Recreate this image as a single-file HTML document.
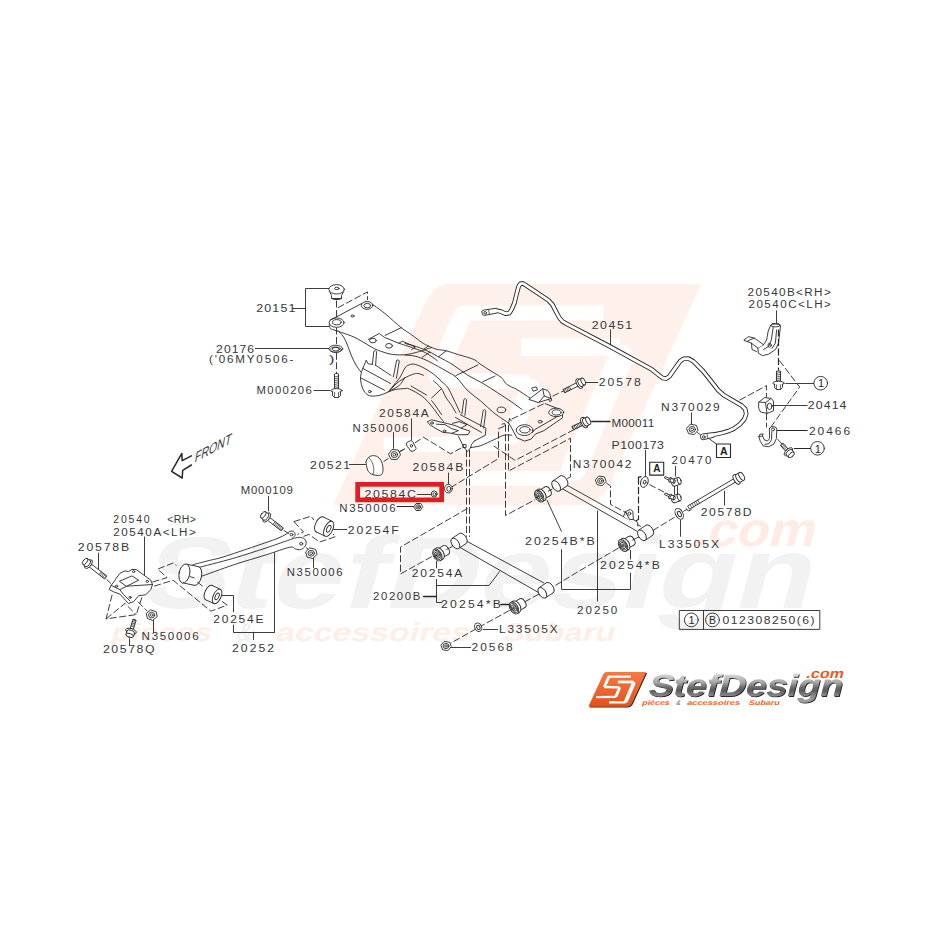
<!DOCTYPE html>
<html><head><meta charset="utf-8"><title>diagram</title>
<style>
html,body{margin:0;padding:0;background:#fff;}
svg{display:block;font-family:"Liberation Sans",sans-serif;}
</style></head><body>
<svg width="931" height="931" viewBox="0 0 931 931">
<rect width="931" height="931" fill="#fff"/>
<defs>
<g id="emb">
<path d="M300,60 L875,60 L668,510 Q645,560 590,560 L35,560 L243,108 Q265,60 300,60 Z"/>
</g>
<g id="embsj" fill="none" stroke="#fff" stroke-linejoin="round">
<path d="M652,126 L338,126 M270,277 L482,283 M150,424 L432,421 M335,500 L578,500" stroke-width="34"/>
<path d="M464,203 L690,203" stroke-width="40"/>
<path d="M331,131 L272,264 M485,296 L440,404" stroke-width="42" stroke-linecap="round"/>
<path d="M692,226 L584,478" stroke-width="56" stroke-linecap="round"/>
</g>
</defs>
<g id="watermark">
<g transform="matrix(0.4385 0 0 0.4426 317.65 257.14)">
<use href="#emb" fill="#fef0eb"/>
<use href="#embsj"/>
</g>
<text transform="matrix(0.762 0 -0.1924 0.74 162.24 534)" x="-6" y="100" font-size="138" font-weight="bold" fill="#f2f2f2" textLength="880" lengthAdjust="spacingAndGlyphs">StefDesign</text>
<text transform="matrix(0.385 0 -0.089 0.342 699.9 511.8)" x="0" y="100" font-size="140" font-weight="bold" fill="#fdebe4" textLength="318" lengthAdjust="spacingAndGlyphs">.com</text>
<g fill="#fdeee8" font-size="125" font-weight="bold">
<text transform="matrix(0.2154 0 -0.0533 0.205 115.0 621.3)" x="0" y="98" textLength="468" lengthAdjust="spacingAndGlyphs">pièces</text>
<text transform="matrix(0.2154 0 -0.0533 0.205 240.3 621.3)" x="0" y="98" fill="#f1f1f1" textLength="75" lengthAdjust="spacingAndGlyphs">&amp;</text>
<text transform="matrix(0.2154 0 -0.0533 0.205 279.6 621.3)" x="0" y="98" textLength="900" lengthAdjust="spacingAndGlyphs">accessoires</text>
<text transform="matrix(0.2154 0 -0.0533 0.205 506.1 621.3)" x="0" y="98" textLength="524" lengthAdjust="spacingAndGlyphs">Subaru</text>
</g>
</g>

<g stroke-linecap="round" stroke-linejoin="round">
<path d="M292.4,308.5 L305.3,308.5" fill="none" stroke="#282828" stroke-width="0.9"/>
<path d="M328.9,288.5 L305.5,288.5 L305.5,326.5 L328.9,326.5" fill="none" stroke="#282828" stroke-width="0.9"/>
<path d="M329.6,291.5 L331.5,295.5 L331.5,298.5 L341.5,298.5 L341.5,295.5 L343.8,291.5" fill="#fff" stroke="#282828" stroke-width="0.9"/>
<path d="M331.8,298.3 L334.0,299.5 L339.4,299.5 L341.6,298.3" fill="none" stroke="#282828" stroke-width="0.9"/>
<ellipse cx="336.6" cy="289.3" rx="7.7" ry="4.7" fill="#fff" stroke="#282828" stroke-width="0.9"/>
<ellipse cx="336.8" cy="288.4" rx="2.3" ry="1.2" fill="none" stroke="#282828" stroke-width="0.9"/>
<path d="M336.5,300.5 L336.5,318.0" fill="none" stroke="#282828" stroke-width="0.9" stroke-dasharray="7 2.5" stroke-linecap="butt"/>
<path d="M336.5,327.5 L336.5,344.5" fill="none" stroke="#282828" stroke-width="0.9" stroke-dasharray="7 2.5" stroke-linecap="butt"/>
<path d="M336.5,352.8 L336.5,373.5" fill="none" stroke="#282828" stroke-width="0.9" stroke-dasharray="7 2.5" stroke-linecap="butt"/>
<path d="M337.8,307.8 L367.5,291.9 L367.5,300.0" fill="none" stroke="#282828" stroke-width="0.9" stroke-dasharray="7 2.5" stroke-linecap="butt"/>
<path d="M255.4,348.5 L328.9,348.5" fill="none" stroke="#282828" stroke-width="0.9"/>
<ellipse cx="335.8" cy="348.8" rx="6.9" ry="3.6" fill="#fff" stroke="#282828" stroke-width="0.9"/>
<ellipse cx="335.8" cy="349.2" rx="3.6" ry="1.8" fill="none" stroke="#282828" stroke-width="0.9"/>
<ellipse cx="335.8" cy="349.6" rx="5.5" ry="2.7" fill="none" stroke="#282828" stroke-width="0.7"/>
<path d="M313.9,390.5 L330.0,390.5" fill="none" stroke="#282828" stroke-width="0.9"/>
<path d="M334.5,374.8 L334.5,389.5 L338.5,389.5 L338.5,374.8" fill="#fff" stroke="#282828" stroke-width="0.9"/>
<path d="M334.3,374.8 L335.2,373.5 L337.8,373.5 L338.7,374.8" fill="none" stroke="#282828" stroke-width="0.9"/>
<path d="M334.3,377.0 L338.7,376.0" fill="none" stroke="#282828" stroke-width="0.7"/>
<path d="M334.3,378.9 L338.7,377.9" fill="none" stroke="#282828" stroke-width="0.7"/>
<path d="M334.3,380.8 L338.7,379.8" fill="none" stroke="#282828" stroke-width="0.7"/>
<path d="M334.3,382.7 L338.7,381.7" fill="none" stroke="#282828" stroke-width="0.7"/>
<path d="M334.3,384.6 L338.7,383.6" fill="none" stroke="#282828" stroke-width="0.7"/>
<path d="M334.3,386.5 L338.7,385.5" fill="none" stroke="#282828" stroke-width="0.7"/>
<path d="M334.3,388.4 L338.7,387.4" fill="none" stroke="#282828" stroke-width="0.7"/>
<ellipse cx="336.5" cy="390.6" rx="5.6" ry="2.0" fill="#fff" stroke="#282828" stroke-width="0.9"/>
<path d="M332.5,391.5 L332.5,395.6 L334.6,397.5 L338.4,397.5 L340.5,395.6 L340.5,391.5" fill="#fff" stroke="#282828" stroke-width="0.9"/>
<path d="M334.5,392.4 L334.5,397.2" fill="none" stroke="#282828" stroke-width="0.7"/>
<path d="M338.5,392.4 L338.5,397.2" fill="none" stroke="#282828" stroke-width="0.7"/>
<ellipse cx="336.6" cy="322.6" rx="7.5" ry="4.7" fill="#fff" stroke="#282828" stroke-width="0.9"/>
<ellipse cx="336.8" cy="322.2" rx="4.3" ry="2.6" fill="none" stroke="#282828" stroke-width="0.9"/>
<ellipse cx="367.1" cy="305.4" rx="5.8" ry="3.9" fill="#fff" stroke="#282828" stroke-width="0.9"/>
<ellipse cx="367.3" cy="305.6" rx="3.4" ry="2.2" fill="none" stroke="#282828" stroke-width="0.9"/>
<ellipse cx="352.5" cy="316.0" rx="1.6" ry="1.0" fill="none" stroke="#282828" stroke-width="0.9"/>
<path d="M330.2,320.2 L361.5,303.6" fill="none" stroke="#282828" stroke-width="0.9"/>
<path d="M372.6,304.2 C372.9,304.4 372.0,303.9 374.2,305.6 C376.4,307.3 381.3,310.5 385.8,314.2 C390.3,317.9 396.9,324.3 401.2,327.7 C405.5,331.1 408.2,332.3 411.6,334.8 C415.1,337.3 419.4,340.8 421.9,342.5 C424.4,344.2 424.8,344.3 426.5,345.2 C428.2,346.1 430.3,347.0 432.2,347.7 C434.1,348.4 435.3,349.0 437.6,349.5 C439.9,350.0 442.8,349.9 446.2,350.8 C449.6,351.7 453.7,353.2 458.3,354.6 C462.9,356.0 469.9,357.8 473.7,359.4 C477.4,361.0 477.9,362.6 480.8,364.5 C483.7,366.4 487.8,369.0 491.0,371.0 C494.2,373.0 498.1,375.2 500.1,376.6 C502.1,378.0 502.3,378.5 503.2,379.6 C504.1,380.7 504.1,381.9 505.3,383.0 C506.5,384.1 508.6,385.4 510.5,386.5 C512.4,387.6 513.7,387.6 516.9,389.5 C520.1,391.4 527.6,396.5 529.8,397.9" fill="none" stroke="#282828" stroke-width="0.9"/>
<path d="M329.3,324.5 C329.5,325.2 329.4,327.5 330.5,328.5 C331.6,329.5 333.2,329.6 336.0,330.6 C338.8,331.6 343.9,333.2 347.2,334.4 C350.5,335.6 352.8,336.4 356.0,338.0 C359.2,339.6 363.3,342.3 366.5,344.1 C369.7,345.9 372.4,347.8 375.0,349.0 C377.6,350.2 379.6,350.8 381.9,351.6 C384.2,352.4 386.6,353.3 389.0,353.8 C391.4,354.3 393.8,354.6 396.1,354.8 C398.4,355.0 400.9,354.9 403.0,354.8 C405.1,354.7 406.3,354.6 409.0,354.1 C411.7,353.6 416.3,352.5 419.3,351.6 C422.3,350.8 425.0,349.7 427.0,349.0 C429.0,348.3 430.8,347.8 431.5,347.6" fill="none" stroke="#282828" stroke-width="0.9"/>
<path d="M368.4,339.4 L379.3,333.5 L384.5,337.4 L398.7,343.2 L402.5,341.2 L415.4,347.0 L411.6,349.6" fill="none" stroke="#282828" stroke-width="0.9"/>
<path d="M385.1,335.4 L401.2,327.7" fill="none" stroke="#282828" stroke-width="0.9"/>
<path d="M398.7,343.2 C401.3,344.1 409.6,346.7 414.1,348.3 C418.6,349.9 421.8,350.8 425.7,352.8 C429.6,354.9 435.4,359.3 437.3,360.6" fill="none" stroke="#282828" stroke-width="0.9"/>
<ellipse cx="372.9" cy="340.6" rx="3.4" ry="2.3" fill="none" stroke="#282828" stroke-width="0.9"/>
<ellipse cx="389.0" cy="345.8" rx="3.4" ry="2.3" fill="none" stroke="#282828" stroke-width="0.9"/>
<path d="M405.0,343.5 C406.9,344.0 412.1,345.1 416.2,346.5 C420.3,347.9 426.2,350.4 429.9,352.1 C433.6,353.8 434.6,354.7 438.5,356.8 C442.4,358.9 448.2,361.8 453.1,364.9 C458.0,368.0 462.8,372.2 467.9,375.3 C472.9,378.4 478.5,380.8 483.4,383.7 C488.3,386.6 493.0,389.8 497.5,392.7 C502.0,395.6 506.3,398.3 510.4,401.1 C514.5,403.9 520.1,408.1 522.0,409.5" fill="none" stroke="#282828" stroke-width="0.9"/>
<path d="M405.0,355.1 C406.2,355.2 409.7,355.2 412.0,355.6 C414.3,356.0 416.0,356.3 418.7,357.2 C421.4,358.1 424.7,359.4 428.0,361.0 C431.3,362.6 435.3,364.9 438.5,366.7 C441.7,368.4 444.0,369.7 447.0,371.5 C450.0,373.3 453.0,374.3 456.5,377.5 C460.0,380.7 463.8,386.9 467.9,390.8 C471.9,394.7 476.5,397.5 480.8,401.1 C485.1,404.8 489.4,409.3 493.7,412.7 C498.0,416.1 504.0,419.9 506.6,421.7 C509.2,423.5 508.7,423.3 509.1,423.6" fill="none" stroke="#282828" stroke-width="0.9"/>
<path d="M422.2,357.2 L429.9,352.1" fill="none" stroke="#282828" stroke-width="0.9"/>
<path d="M423.9,349.0 L428.6,346.0" fill="none" stroke="#282828" stroke-width="0.9"/>
<path d="M438.5,356.8 L446.2,350.8" fill="none" stroke="#282828" stroke-width="0.9"/>
<path d="M455.7,375.7 L478.0,364.9" fill="none" stroke="#282828" stroke-width="0.9"/>
<path d="M482.7,381.8 L495.0,376.0" fill="none" stroke="#282828" stroke-width="0.9"/>
<ellipse cx="501.4" cy="409.9" rx="4.3" ry="2.8" fill="none" stroke="#282828" stroke-width="0.9"/>
<path d="M338.0,330.8 C338.8,331.7 341.4,333.8 342.9,336.0 C344.4,338.2 345.6,340.7 347.0,344.0 C348.4,347.3 350.0,352.4 351.5,355.9 C353.0,359.4 354.5,362.4 356.0,365.0 C357.5,367.6 359.8,370.4 360.5,371.5" fill="none" stroke="#282828" stroke-width="0.9"/>
<path d="M366.2,360.5 C365.4,362.4 362.4,368.8 361.5,372.0 C360.6,375.2 360.4,377.3 360.6,380.0 C360.8,382.7 361.6,385.8 362.5,388.0 C363.4,390.2 364.6,392.2 366.0,393.5 C367.4,394.8 368.7,395.7 371.0,396.0 C373.3,396.3 377.1,395.9 380.0,395.2 C382.9,394.5 387.1,392.4 388.5,391.8" fill="none" stroke="#282828" stroke-width="0.9"/>
<path d="M366.2,360.5 L368.5,364.0 L374.2,364.4 L391.0,375.4" fill="none" stroke="#282828" stroke-width="0.9"/>
<path d="M363.0,368.5 L390.5,383.5" fill="none" stroke="#282828" stroke-width="0.9"/>
<path d="M361.0,378.0 L384.5,390.2" fill="none" stroke="#282828" stroke-width="0.9"/>
<ellipse cx="369.8" cy="391.6" rx="1.4" ry="1.1" fill="none" stroke="#282828" stroke-width="0.9"/>
<path d="M372.4,364.4 L373.8,351.5 L375.4,350.6 L376.6,351.8 L375.6,365.4" fill="#fff" stroke="#282828" stroke-width="0.9"/>
<path d="M393.4,376.8 L396.6,360.4 L398.2,359.8 L399.3,361.0 L396.4,378.2" fill="#fff" stroke="#282828" stroke-width="0.9"/>
<path d="M388.5,391.8 C389.2,390.8 391.2,388.3 393.0,386.0 C394.8,383.7 397.5,381.0 399.5,378.0 C401.5,375.0 403.6,370.1 405.0,368.0 C406.4,365.9 406.6,366.0 408.0,365.4 C409.4,364.8 411.2,363.8 413.6,364.1 C416.0,364.4 418.9,365.5 422.2,367.1 C425.5,368.8 430.1,371.6 433.4,374.0 C436.7,376.4 439.5,379.4 441.9,381.7 C444.3,384.0 446.0,385.0 447.9,387.7 C449.8,390.4 451.7,395.1 453.1,398.0 C454.5,400.9 455.4,402.6 456.5,405.0 C457.6,407.4 459.4,411.2 460.0,412.5" fill="none" stroke="#282828" stroke-width="0.9"/>
<path d="M388.5,391.8 C389.8,390.5 393.5,386.2 396.0,384.0 C398.5,381.8 400.7,380.2 403.5,378.6 C406.3,377.0 410.3,375.2 412.7,374.4 C415.1,373.5 416.1,373.4 417.9,373.5 C419.7,373.6 422.6,375.0 423.5,375.3" fill="none" stroke="#282828" stroke-width="0.9"/>
<path d="M390.0,390.6 C391.5,389.8 396.5,387.8 399.0,385.6 C401.5,383.4 404.0,378.8 405.0,377.4" fill="none" stroke="#282828" stroke-width="0.9"/>
<path d="M433.4,380.8 C434.7,382.0 439.0,385.2 441.1,388.1 C443.2,391.0 444.5,395.2 446.2,398.0 C447.9,400.8 449.8,402.5 451.4,405.0 C453.0,407.5 455.2,411.7 456.0,413.0" fill="none" stroke="#282828" stroke-width="0.9"/>
<path d="M431.6,398.0 L441.1,389.0" fill="none" stroke="#282828" stroke-width="0.9"/>
<path d="M411.0,386.0 L426.5,395.0" fill="none" stroke="#282828" stroke-width="0.9"/>
<path d="M388.5,391.8 C389.8,391.4 393.2,389.9 396.0,389.4 C398.8,388.9 402.8,388.7 405.0,388.6 C407.2,388.5 406.4,387.7 409.3,389.0 C412.2,390.3 418.6,393.6 422.2,396.3 C425.8,399.0 428.2,402.1 430.8,405.0 C433.4,407.9 435.4,411.2 437.5,414.0 C439.6,416.8 442.5,420.2 443.5,421.5" fill="none" stroke="#282828" stroke-width="0.9"/>
<path d="M431.6,400.6 L435.0,405.0 L441.5,414.5" fill="none" stroke="#282828" stroke-width="0.9"/>
<path d="M461.9,414.0 L463.9,399.5 L465.4,398.6 L466.6,399.8 L464.9,415.4" fill="#fff" stroke="#282828" stroke-width="0.9"/>
<path d="M480.6,426.6 L483.2,410.4 L484.7,409.6 L485.9,410.8 L483.6,428.0" fill="#fff" stroke="#282828" stroke-width="0.9"/>
<path d="M460.2,414.6 L485.9,428.2 L485.3,435.3 L474.3,441.0" fill="none" stroke="#282828" stroke-width="0.9"/>
<path d="M455.5,417.5 L481.5,432.4" fill="none" stroke="#282828" stroke-width="0.9"/>
<path d="M427.6,421.6 L431.5,419.8 L438.0,421.4 L447.5,423.6 L455.0,425.5 L461.0,428.2 L470.0,431.2 L468.0,434.6 L458.0,434.8 L450.0,433.0 L443.0,432.4 L436.0,428.6 L430.5,425.2 Z" fill="#fff" stroke="#282828" stroke-width="0.9"/>
<path d="M436.5,424.2 L445.0,424.6 L451.5,428.6 L458.5,430.6 L452.0,433.2" fill="none" stroke="#282828" stroke-width="0.9"/>
<path d="M452.5,423.4 L459.0,421.6 L467.0,424.6 L461.0,428.2" fill="none" stroke="#282828" stroke-width="0.9"/>
<ellipse cx="432.0" cy="423.0" rx="1.5" ry="1.1" fill="none" stroke="#282828" stroke-width="0.9"/>
<ellipse cx="444.5" cy="431.0" rx="1.4" ry="1.0" fill="none" stroke="#282828" stroke-width="0.9"/>
<path d="M458.5,436.5 L463.8,447.2 L467.5,451.5 L470.6,447.6" fill="none" stroke="#282828" stroke-width="0.9"/>
<path d="M470.6,447.6 C472.3,447.3 477.0,446.9 480.8,445.6 C484.6,444.3 489.8,441.5 493.7,439.8 C497.6,438.1 501.0,436.0 504.0,435.2 C507.0,434.4 510.4,435.2 511.7,435.2" fill="none" stroke="#282828" stroke-width="0.9"/>
<path d="M474.3,441.0 L471.5,444.5 L470.6,447.6" fill="none" stroke="#282828" stroke-width="0.9"/>
<rect x="463.3" y="444.6" width="2.8" height="3" fill="none" stroke="#282828" stroke-width="0.9"/>
<path d="M545.2,403.7 L556.8,408.2 L560.6,409.8 L562.5,412.7 L562.5,417.8 L543.9,430.7 L535.5,434.0 L531.1,439.1 L524.6,441.1 L516.9,437.8 L511.7,428.2 L509.1,423.6" fill="none" stroke="#282828" stroke-width="0.9"/>
<path d="M562.4,413.6 L534.9,429.5 L532.4,432.6" fill="none" stroke="#282828" stroke-width="0.9"/>
<path d="M511.7,419.1 L543.9,403.7" fill="none" stroke="#282828" stroke-width="0.9" stroke-dasharray="7 2.5" stroke-linecap="butt"/>
<ellipse cx="524.6" cy="430.1" rx="8.4" ry="5.4" fill="#fff" stroke="#282828" stroke-width="0.9"/>
<ellipse cx="524.9" cy="429.8" rx="5.2" ry="3.2" fill="none" stroke="#282828" stroke-width="0.9"/>
<ellipse cx="556.2" cy="412.4" rx="7.5" ry="4.2" fill="#fff" stroke="#282828" stroke-width="0.9"/>
<ellipse cx="556.6" cy="412.4" rx="4.5" ry="2.6" fill="none" stroke="#282828" stroke-width="0.9"/>
<ellipse cx="540.1" cy="421.7" rx="2.0" ry="1.3" fill="none" stroke="#282828" stroke-width="0.9"/>
<path d="M508.5,423.0 L509.6,418.4 L511.2,421.0" fill="none" stroke="#282828" stroke-width="0.9"/>
<path d="M502.0,424.2 L504.6,423.4 L505.3,425.6" fill="none" stroke="#282828" stroke-width="0.9"/>
<path d="M529.1,399.2 L542.7,388.8 L547.5,390.4 L549.7,393.4 L551.0,398.5 L538.8,402.4 Z" fill="#fff" stroke="#282828" stroke-width="0.9"/>
<path d="M542.7,388.8 L544.2,396.0 L551.0,398.5" fill="none" stroke="#282828" stroke-width="0.9"/>
<path d="M544.2,396.0 L538.8,402.4" fill="none" stroke="#282828" stroke-width="0.9"/>
<path d="M531.7,388.2 L533.2,391.2 L537.5,389.8 L536.4,386.9 L532.6,387.6" fill="none" stroke="#282828" stroke-width="0.9"/>
<path d="M548.5,399.4 L549.8,401.6 L551.8,400.4 L551.0,398.5" fill="none" stroke="#282828" stroke-width="0.9"/>
<path d="M466.5,450.0 L466.5,536.8" fill="none" stroke="#282828" stroke-width="0.9" stroke-dasharray="7 2.5" stroke-linecap="butt"/>
<path d="M469.5,450.0 L469.5,536.8" fill="none" stroke="#282828" stroke-width="0.9" stroke-dasharray="7 2.5" stroke-linecap="butt"/>
<path d="M505.5,424.7 L505.5,515.5 L535.2,499.6" fill="none" stroke="#282828" stroke-width="0.9" stroke-dasharray="7 2.5" stroke-linecap="butt"/>
<path d="M508.5,424.7 L508.5,471.1 L570.5,438.2 L570.5,476.9 L565.8,479.4" fill="none" stroke="#282828" stroke-width="0.9" stroke-dasharray="7 2.5" stroke-linecap="butt"/>
<path d="M504.5,426.2 L498.5,428.6 L498.5,458.5 L452.0,486.8" fill="none" stroke="#282828" stroke-width="0.9" stroke-dasharray="7 2.5" stroke-linecap="butt"/>
<path d="M493.8,446.0 L515.1,460.4 L579.8,426.6" fill="none" stroke="#282828" stroke-width="0.9" stroke-dasharray="7 2.5" stroke-linecap="butt"/>
<path d="M467.6,508.4 L400.5,547.1 L400.5,573.9 L432.0,556.5" fill="none" stroke="#282828" stroke-width="0.9" stroke-dasharray="7 2.5" stroke-linecap="butt"/>
<path d="M414.8,443.0 L423.4,437.2 L450.5,453.8 L462.8,447.2" fill="none" stroke="#282828" stroke-width="0.9" stroke-dasharray="7 2.5" stroke-linecap="butt"/>
<path d="M399.0,452.0 L406.5,447.8" fill="none" stroke="#282828" stroke-width="0.9" stroke-dasharray="7 2.5" stroke-linecap="butt"/>
<path d="M552.5,396.2 L563.8,390.8" fill="none" stroke="#282828" stroke-width="0.9" stroke-dasharray="7 2.5" stroke-linecap="butt"/>
<path d="M496.0,310.6 L501.0,311.6 L505.5,313.6 L509.2,313.2 L511.6,309.5 L514.4,303.0 L516.6,294.0 L518.7,286.2 L520.5,283.6 L523.4,283.6 L537.0,292.6 L548.5,300.4 L552.4,304.6 L556.0,311.6 L559.5,318.0 L562.5,321.4 L566.5,323.7 L608.9,345.9 L651.9,369.6 L658.4,374.8 L662.6,378.0 L666.0,378.6 L669.4,376.4 L675.0,368.4 L680.2,361.2 L683.5,358.8 L688.5,358.6 L693.6,361.6 L703.0,371.0 L711.0,381.0 L718.0,390.0 L723.5,395.0 L741.6,405.6 L745.2,409.0 L746.2,414.0 L744.2,419.4 L739.5,424.7 L733.5,428.8 L728.7,431.0 L722.5,432.8 L713.0,434.8" fill="none" stroke="#282828" stroke-width="4.6" stroke-linejoin="round"/>
<path d="M496.0,310.6 L501.0,311.6 L505.5,313.6 L509.2,313.2 L511.6,309.5 L514.4,303.0 L516.6,294.0 L518.7,286.2 L520.5,283.6 L523.4,283.6 L537.0,292.6 L548.5,300.4 L552.4,304.6 L556.0,311.6 L559.5,318.0 L562.5,321.4 L566.5,323.7 L608.9,345.9 L651.9,369.6 L658.4,374.8 L662.6,378.0 L666.0,378.6 L669.4,376.4 L675.0,368.4 L680.2,361.2 L683.5,358.8 L688.5,358.6 L693.6,361.6 L703.0,371.0 L711.0,381.0 L718.0,390.0 L723.5,395.0 L741.6,405.6 L745.2,409.0 L746.2,414.0 L744.2,419.4 L739.5,424.7 L733.5,428.8 L728.7,431.0 L722.5,432.8 L713.0,434.8" fill="none" stroke="#fff" stroke-width="2.8" stroke-linejoin="round" stroke-linecap="butt"/>
<path d="M496.5,308.2 L484.0,310.0 L481.8,311.2 L482.4,314.6 L484.5,315.4 L497.0,313.0" fill="#fff" stroke="#282828" stroke-width="0.9"/>
<ellipse cx="485.2" cy="312.8" rx="1.3" ry="1.3" fill="none" stroke="#282828" stroke-width="0.9"/>
<path d="M488.6,309.6 L489.4,314.4" fill="none" stroke="#282828" stroke-width="0.7"/>
<path d="M713.4,432.5 L702.4,434.0 L700.4,435.4 L701.0,439.0 L703.0,439.8 L713.8,437.2" fill="#fff" stroke="#282828" stroke-width="0.9"/>
<ellipse cx="703.8" cy="437.0" rx="1.3" ry="1.3" fill="none" stroke="#282828" stroke-width="0.9"/>
<path d="M707.0,433.6 L707.8,438.4" fill="none" stroke="#282828" stroke-width="0.7"/>
<path d="M610.5,329.8 L610.5,344.9" fill="none" stroke="#282828" stroke-width="0.9"/>
<path d="M585.3,382.5 L597.7,382.5" fill="none" stroke="#282828" stroke-width="0.9"/>
<path d="M579.8,381.2 L563.0,389.6 L564.6,392.8 L581.4,384.4 Z" fill="#fff" stroke="#282828" stroke-width="0.9"/>
<path d="M563.7,389.2 L565.3,392.5" fill="none" stroke="#282828" stroke-width="0.7"/>
<path d="M565.1,388.5 L566.8,391.7" fill="none" stroke="#282828" stroke-width="0.7"/>
<path d="M566.6,387.8 L568.2,391.0" fill="none" stroke="#282828" stroke-width="0.7"/>
<path d="M568.0,387.1 L569.6,390.3" fill="none" stroke="#282828" stroke-width="0.7"/>
<path d="M569.4,386.4 L571.0,389.6" fill="none" stroke="#282828" stroke-width="0.7"/>
<ellipse cx="579.3" cy="383.5" rx="2.6" ry="5.2" fill="#fff" stroke="#282828" stroke-width="0.9" transform="rotate(153.43494882292217 579.3 383.5)"/>
<ellipse cx="580.2" cy="383.0" rx="1.9" ry="3.7" fill="#fff" stroke="#282828" stroke-width="0.9" transform="rotate(333.43494882292214 580.2 383.0)"/>
<path d="M581.8,386.4 L584.9,384.9 L581.5,378.2 L578.5,379.7 Z" fill="#fff" stroke="none"/>
<path d="M581.8,386.4 L584.9,384.9" fill="none" stroke="#282828" stroke-width="0.9"/>
<path d="M578.5,379.7 L581.5,378.2" fill="none" stroke="#282828" stroke-width="0.9"/>
<ellipse cx="583.2" cy="381.5" rx="1.9" ry="3.7" fill="#fff" stroke="#282828" stroke-width="0.9" transform="rotate(333.43494882292214 583.2 381.5)"/>
<path d="M591.7,421.5 L610.0,421.5" fill="none" stroke="#282828" stroke-width="1.3"/>
<path d="M584.8,420.4 L571.8,426.6 L573.4,429.8 L586.4,423.6 Z" fill="#fff" stroke="#282828" stroke-width="0.9"/>
<path d="M572.5,426.2 L574.1,429.5" fill="none" stroke="#282828" stroke-width="0.7"/>
<path d="M574.0,425.5 L575.5,428.8" fill="none" stroke="#282828" stroke-width="0.7"/>
<path d="M575.4,424.9 L577.0,428.1" fill="none" stroke="#282828" stroke-width="0.7"/>
<path d="M576.9,424.2 L578.4,427.4" fill="none" stroke="#282828" stroke-width="0.7"/>
<path d="M578.3,423.5 L579.9,426.7" fill="none" stroke="#282828" stroke-width="0.7"/>
<path d="M579.8,422.8 L581.3,426.0" fill="none" stroke="#282828" stroke-width="0.7"/>
<ellipse cx="584.2" cy="422.6" rx="2.8" ry="5.6" fill="#fff" stroke="#282828" stroke-width="0.9" transform="rotate(154.50244850666226 584.2 422.6)"/>
<ellipse cx="585.1" cy="422.2" rx="2.0" ry="4.0" fill="#fff" stroke="#282828" stroke-width="0.9" transform="rotate(334.5024485066623 585.1 422.2)"/>
<path d="M586.9,425.9 L590.0,424.4 L586.5,417.1 L583.4,418.6 Z" fill="#fff" stroke="none"/>
<path d="M586.9,425.9 L590.0,424.4" fill="none" stroke="#282828" stroke-width="0.9"/>
<path d="M583.4,418.6 L586.5,417.1" fill="none" stroke="#282828" stroke-width="0.9"/>
<ellipse cx="588.2" cy="420.8" rx="2.0" ry="4.0" fill="#fff" stroke="#282828" stroke-width="0.9" transform="rotate(334.5024485066623 588.2 420.8)"/>
<path d="M776.5,310.8 L776.5,323.7" fill="none" stroke="#282828" stroke-width="0.9"/>
<path d="M770.6,325.4 L772.2,323.6 L779.0,323.8 L780.4,325.6 L780.2,329.0 L778.4,343.5 L775.5,349.5 L768.5,354.2 L762.5,355.6 L758.4,353.2 L757.8,348.0 L763.5,344.8 L766.6,340.0 L768.2,331.0 L770.6,325.4" fill="#fff" stroke="#282828" stroke-width="0.9"/>
<ellipse cx="775.5" cy="325.4" rx="4.6" ry="1.5" fill="none" stroke="#282828" stroke-width="0.9"/>
<path d="M773.2,327.6 L771.2,340.5 L768.6,346.4 L763.5,349.6" fill="none" stroke="#282828" stroke-width="0.9"/>
<path d="M776.6,330.0 L775.4,343.0 L772.0,348.4" fill="none" stroke="#282828" stroke-width="0.9"/>
<ellipse cx="769.6" cy="345.2" rx="1.6" ry="2.0" fill="none" stroke="#282828" stroke-width="0.9"/>
<path d="M757.8,348.0 L751.5,343.2 L747.0,341.5 L743.8,340.2 L748.5,336.6 L754.5,338.2 L759.0,341.4 L763.5,344.8" fill="#fff" stroke="#282828" stroke-width="0.9"/>
<path d="M747.0,341.5 L751.0,339.4 L754.5,338.2" fill="none" stroke="#282828" stroke-width="0.9"/>
<path d="M751.5,343.2 L752.0,349.5 L756.5,351.6" fill="none" stroke="#282828" stroke-width="0.9"/>
<path d="M778.5,329.5 L778.5,370.5" fill="none" stroke="#282828" stroke-width="1.2" stroke-dasharray="7 2.5" stroke-linecap="butt"/>
<path d="M776.5,371.5 L776.5,381.5 L780.5,381.5 L780.5,371.5 Z" fill="#fff" stroke="#282828" stroke-width="0.9"/>
<path d="M776.3,373.4 L780.3,372.6" fill="none" stroke="#282828" stroke-width="0.7"/>
<path d="M776.3,375.2 L780.3,374.4" fill="none" stroke="#282828" stroke-width="0.7"/>
<path d="M776.3,377.0 L780.3,376.2" fill="none" stroke="#282828" stroke-width="0.7"/>
<path d="M776.3,378.8 L780.3,378.0" fill="none" stroke="#282828" stroke-width="0.7"/>
<path d="M776.3,380.6 L780.3,379.8" fill="none" stroke="#282828" stroke-width="0.7"/>
<ellipse cx="778.5" cy="383.2" rx="5.6" ry="2.0" fill="#fff" stroke="#282828" stroke-width="0.9"/>
<path d="M774.5,384.2 L774.5,387.6 L776.6,389.5 L780.6,389.5 L782.5,387.6 L782.5,384.2" fill="#fff" stroke="#282828" stroke-width="0.9"/>
<path d="M776.5,385.0 L776.5,389.3" fill="none" stroke="#282828" stroke-width="0.7"/>
<path d="M780.5,385.0 L780.5,389.3" fill="none" stroke="#282828" stroke-width="0.7"/>
<path d="M785.7,383.5 L813.6,383.5" fill="none" stroke="#282828" stroke-width="0.9"/>
<circle cx="820.7" cy="383.2" r="6.8" fill="none" stroke="#282828" stroke-width="0.9"/>
<text x="821.0" y="387.4" font-size="11" text-anchor="middle" fill="#282828" stroke="none">1</text>
<path d="M779.4,360.5 L799.6,387.1 L769.8,428.6" fill="none" stroke="#282828" stroke-width="0.9" stroke-dasharray="7 2.5" stroke-linecap="butt"/>
<path d="M739.5,400.2 L766.5,385.6 L766.5,398.5" fill="none" stroke="#282828" stroke-width="0.9" stroke-dasharray="7 2.5" stroke-linecap="butt"/>
<path d="M766.5,413.2 L766.5,427.5" fill="none" stroke="#282828" stroke-width="0.9" stroke-dasharray="7 2.5" stroke-linecap="butt"/>
<path d="M759.0,402.0 L764.5,397.6 L771.0,398.4 L773.5,401.2 L773.5,410.8 L767.0,413.4 L760.5,412.0 L758.8,408.6 Z" fill="#fff" stroke="#282828" stroke-width="0.9"/>
<path d="M759.0,402.0 L765.5,402.6 L767.0,413.4" fill="none" stroke="#282828" stroke-width="0.9"/>
<path d="M765.5,402.6 L771.0,398.4" fill="none" stroke="#282828" stroke-width="0.9"/>
<ellipse cx="769.6" cy="406.4" rx="2.3" ry="3.2" fill="none" stroke="#282828" stroke-width="0.9"/>
<path d="M772.5,405.5 L807.2,405.5" fill="none" stroke="#282828" stroke-width="0.9"/>
<path d="M776.0,430.5 L807.2,430.5" fill="none" stroke="#282828" stroke-width="1.2"/>
<path d="M769.4,428.4 L771.5,426.6 L775.6,427.0 L776.8,429.2 L776.4,438.5 L773.8,444.2 L768.4,446.8 L763.4,446.0 L760.4,441.6 L758.8,436.5 L762.5,436.0 L764.5,440.0 L767.6,441.0 L769.6,438.4 L769.4,428.4" fill="#fff" stroke="#282828" stroke-width="0.9"/>
<ellipse cx="773.0" cy="429.4" rx="1.5" ry="1.5" fill="none" stroke="#282828" stroke-width="0.9"/>
<path d="M771.8,431.6 L771.6,439.5 L769.0,443.6 L765.0,444.4" fill="none" stroke="#282828" stroke-width="0.9"/>
<path d="M758.8,436.5 L759.8,434.4 L763.2,433.8 L762.5,436.0" fill="none" stroke="#282828" stroke-width="0.9"/>
<path d="M777.5,439.2 L784.0,446.0" fill="none" stroke="#282828" stroke-width="0.9" stroke-dasharray="7 2.5" stroke-linecap="butt"/>
<path d="M790.6,451.7 L782.8,443.1 L780.4,445.3 L788.2,453.9 Z" fill="#fff" stroke="#282828" stroke-width="0.9"/>
<path d="M783.3,443.7 L781.0,445.9" fill="none" stroke="#282828" stroke-width="0.7"/>
<path d="M784.4,444.9 L782.0,447.1" fill="none" stroke="#282828" stroke-width="0.7"/>
<path d="M785.5,446.1 L783.1,448.2" fill="none" stroke="#282828" stroke-width="0.7"/>
<path d="M786.5,447.3 L784.2,449.4" fill="none" stroke="#282828" stroke-width="0.7"/>
<path d="M787.6,448.5 L785.3,450.6" fill="none" stroke="#282828" stroke-width="0.7"/>
<ellipse cx="788.4" cy="451.7" rx="2.6" ry="5.2" fill="#fff" stroke="#282828" stroke-width="0.9" transform="rotate(-132.20729763428648 788.4 451.7)"/>
<ellipse cx="789.1" cy="452.4" rx="1.9" ry="3.7" fill="#fff" stroke="#282828" stroke-width="0.9" transform="rotate(47.792702365713524 789.1 452.4)"/>
<path d="M786.3,454.9 L788.6,457.5 L794.1,452.4 L791.8,449.9 Z" fill="#fff" stroke="none"/>
<path d="M786.3,454.9 L788.6,457.5" fill="none" stroke="#282828" stroke-width="0.9"/>
<path d="M791.8,449.9 L794.1,452.4" fill="none" stroke="#282828" stroke-width="0.9"/>
<ellipse cx="791.3" cy="454.9" rx="1.9" ry="3.7" fill="#fff" stroke="#282828" stroke-width="0.9" transform="rotate(47.792702365713524 791.3 454.9)"/>
<path d="M794.3,448.5 L810.4,448.5" fill="none" stroke="#282828" stroke-width="1.2"/>
<circle cx="817.5" cy="448.3" r="6.8" fill="none" stroke="#282828" stroke-width="0.9"/>
<text x="817.8" y="452.5" font-size="11" text-anchor="middle" fill="#282828" stroke="none">1</text>
<path d="M691.5,412.9 L691.5,423.6" fill="none" stroke="#282828" stroke-width="0.9"/>
<path d="M697.9,430.4 L694.2,434.6 L688.5,433.6 L686.5,428.4 L690.2,424.2 L695.9,425.2 Z" fill="#fff" stroke="#282828" stroke-width="0.9"/>
<ellipse cx="692.2" cy="429.4" rx="3.2" ry="2.9" fill="none" stroke="#282828" stroke-width="0.9"/>
<ellipse cx="692.2" cy="429.4" rx="1.4" ry="1.3" fill="none" stroke="#282828" stroke-width="0.8"/>
<path d="M697.4,432.6 L700.4,434.6" fill="none" stroke="#282828" stroke-width="0.9"/>
<path d="M709.4,438.8 L716.3,444.0" fill="none" stroke="#282828" stroke-width="0.9"/>
<rect x="716.5" y="444.0" width="14.0" height="13.5" fill="#fff" stroke="#282828" stroke-width="1.1"/>
<text x="723.7" y="454.6" font-size="10.5" font-weight="bold" text-anchor="middle" fill="#1c1c1c" stroke="none">A</text>
<path d="M191.4,455.8 L182.2,460.6 L181.8,453.4 L171.6,471.3 L182.2,478.0 L182.7,470.3 L191.4,465.0" fill="none" stroke="#282828" stroke-width="1.5"/>
<path d="M144.5,537.0 L144.5,576.7" fill="none" stroke="#282828" stroke-width="0.9"/>
<path d="M98.5,553.1 L98.5,570.3" fill="none" stroke="#282828" stroke-width="0.9"/>
<path d="M86.3,564.6 L104.7,579.0 L106.9,576.2 L88.5,561.8 Z" fill="#fff" stroke="#282828" stroke-width="0.9"/>
<path d="M104.1,578.5 L106.3,575.7" fill="none" stroke="#282828" stroke-width="0.7"/>
<path d="M102.8,577.5 L105.0,574.7" fill="none" stroke="#282828" stroke-width="0.7"/>
<path d="M101.5,576.6 L103.8,573.7" fill="none" stroke="#282828" stroke-width="0.7"/>
<path d="M100.3,575.6 L102.5,572.7" fill="none" stroke="#282828" stroke-width="0.7"/>
<path d="M99.0,574.6 L101.2,571.7" fill="none" stroke="#282828" stroke-width="0.7"/>
<ellipse cx="88.6" cy="564.1" rx="2.6" ry="5.2" fill="#fff" stroke="#282828" stroke-width="0.9" transform="rotate(38.04704253182605 88.6 564.1)"/>
<ellipse cx="87.8" cy="563.5" rx="1.9" ry="3.7" fill="#fff" stroke="#282828" stroke-width="0.9" transform="rotate(218.04704253182604 87.8 563.5)"/>
<path d="M90.1,560.6 L87.4,558.5 L82.8,564.4 L85.5,566.5 Z" fill="#fff" stroke="none"/>
<path d="M90.1,560.6 L87.4,558.5" fill="none" stroke="#282828" stroke-width="0.9"/>
<path d="M85.5,566.5 L82.8,564.4" fill="none" stroke="#282828" stroke-width="0.9"/>
<ellipse cx="85.1" cy="561.4" rx="1.9" ry="3.7" fill="#fff" stroke="#282828" stroke-width="0.9" transform="rotate(218.04704253182604 85.1 561.4)"/>
<path d="M106.5,579.4 L111.0,583.6" fill="none" stroke="#282828" stroke-width="0.9" stroke-dasharray="7 2.5" stroke-linecap="butt"/>
<path d="M111.2,585.4 L119.8,573.4 L125.0,570.8 L128.4,571.6 L131.9,569.5 L136.2,569.5 L150.8,580.2 L152.5,584.5 L150.8,589.7 L145.6,594.8 L138.7,595.7 L133.6,601.7 L128.4,603.4 L119.8,594.0 L114.7,592.3 L109.5,589.7 Z" fill="#fff" stroke="#282828" stroke-width="0.9"/>
<path d="M119.8,581.1 L131.9,575.9 L138.7,580.2 L126.7,586.2 Z" fill="none" stroke="#282828" stroke-width="0.9"/>
<path d="M111.2,585.4 L119.8,589.6 L126.7,586.2 L138.7,585.4 L152.5,584.5" fill="none" stroke="#282828" stroke-width="0.9"/>
<path d="M119.8,589.6 L123.5,594.5 L130.0,601.0" fill="none" stroke="#282828" stroke-width="0.9"/>
<ellipse cx="116.4" cy="586.2" rx="1.3" ry="1.0" fill="none" stroke="#282828" stroke-width="0.9"/>
<ellipse cx="133.6" cy="571.6" rx="1.2" ry="0.9" fill="none" stroke="#282828" stroke-width="0.9"/>
<ellipse cx="147.3" cy="581.4" rx="1.3" ry="1.0" fill="none" stroke="#282828" stroke-width="0.9"/>
<ellipse cx="130.1" cy="597.4" rx="1.2" ry="1.0" fill="none" stroke="#282828" stroke-width="0.9"/>
<path d="M112.1,594.8 L106.1,618.9 L136.2,614.6 L142.2,596.5" fill="none" stroke="#282828" stroke-width="0.9" stroke-dasharray="7 2.5" stroke-linecap="butt"/>
<path d="M106.1,618.9 L125.0,603.4 L136.2,614.6" fill="none" stroke="#282828" stroke-width="0.9" stroke-dasharray="7 2.5" stroke-linecap="butt"/>
<path d="M137.9,601.7 L147.3,611.2" fill="none" stroke="#282828" stroke-width="0.9" stroke-dasharray="7 2.5" stroke-linecap="butt"/>
<path d="M152.5,582.0 L167.1,577.6 L157.6,569.1 L173.1,563.0 L176.5,565.5" fill="none" stroke="#282828" stroke-width="0.9" stroke-dasharray="7 2.5" stroke-linecap="butt"/>
<path d="M154.2,586.2 L173.1,580.2 L210.9,611.2 L227.2,605.1 L221.2,600.8" fill="none" stroke="#282828" stroke-width="0.9" stroke-dasharray="7 2.5" stroke-linecap="butt"/>
<path d="M156.9,616.9 L152.6,620.3 L147.3,618.5 L146.3,613.3 L150.6,609.9 L155.9,611.7 Z" fill="#fff" stroke="#282828" stroke-width="0.9"/>
<ellipse cx="151.6" cy="615.1" rx="3.1" ry="2.8" fill="none" stroke="#282828" stroke-width="0.9"/>
<ellipse cx="151.6" cy="615.1" rx="1.4" ry="1.2" fill="none" stroke="#282828" stroke-width="0.8"/>
<path d="M153.5,620.4 L153.5,632.6" fill="none" stroke="#282828" stroke-width="0.9"/>
<path d="M132.1,633.1 L136.1,620.1 L133.1,619.1 L129.1,632.1 Z" fill="#fff" stroke="#282828" stroke-width="0.9"/>
<path d="M135.9,620.8 L132.8,619.9" fill="none" stroke="#282828" stroke-width="0.7"/>
<path d="M135.4,622.4 L132.4,621.4" fill="none" stroke="#282828" stroke-width="0.7"/>
<path d="M135.0,623.9 L131.9,623.0" fill="none" stroke="#282828" stroke-width="0.7"/>
<path d="M134.5,625.4 L131.4,624.5" fill="none" stroke="#282828" stroke-width="0.7"/>
<path d="M134.0,627.0 L131.0,626.0" fill="none" stroke="#282828" stroke-width="0.7"/>
<ellipse cx="131.0" cy="631.2" rx="2.7" ry="5.4" fill="#fff" stroke="#282828" stroke-width="0.9" transform="rotate(-72.89727103094764 131.0 631.2)"/>
<ellipse cx="130.7" cy="632.1" rx="1.9" ry="3.9" fill="#fff" stroke="#282828" stroke-width="0.9" transform="rotate(107.10272896905236 130.7 632.1)"/>
<path d="M127.0,631.0 L126.0,634.2 L133.5,636.5 L134.5,633.3 Z" fill="#fff" stroke="none"/>
<path d="M127.0,631.0 L126.0,634.2" fill="none" stroke="#282828" stroke-width="0.9"/>
<path d="M134.5,633.3 L133.5,636.5" fill="none" stroke="#282828" stroke-width="0.9"/>
<ellipse cx="129.7" cy="635.4" rx="1.9" ry="3.9" fill="#fff" stroke="#282828" stroke-width="0.9" transform="rotate(107.10272896905236 129.7 635.4)"/>
<path d="M129.5,638.6 L129.5,645.5" fill="none" stroke="#282828" stroke-width="0.9"/>
<path d="M192.9,564.7 C195.4,564.1 203.0,562.1 208.0,560.8 C213.0,559.5 215.1,559.4 223.0,557.0 C230.9,554.6 246.2,549.3 255.2,546.3 C264.1,543.2 271.6,540.7 276.7,538.7 C281.8,536.7 283.9,535.4 286.0,534.2 C288.1,533.0 288.5,532.1 289.6,531.6 C290.7,531.1 291.7,530.9 292.5,531.0 C293.3,531.1 294.2,531.7 294.6,532.4 C295.0,533.1 295.4,534.4 295.0,535.4 C294.6,536.4 292.5,538.1 292.0,538.6" fill="none" stroke="#282828" stroke-width="0.9"/>
<path d="M196.0,568.2 C202.3,566.5 222.0,561.6 233.7,558.2 C245.3,554.8 256.9,550.9 265.9,548.0 C274.8,545.1 282.4,542.3 287.4,540.6 C292.4,538.9 293.6,538.3 296.0,537.8 C298.4,537.3 300.0,537.3 301.5,537.6 C303.0,537.9 304.4,538.6 305.2,539.6 C306.0,540.6 306.3,542.1 306.2,543.4 C306.1,544.7 305.4,546.2 304.4,547.2 C303.4,548.2 301.8,549.3 300.3,549.6 C298.8,549.9 297.3,549.4 295.5,549.0 C293.7,548.6 294.5,546.3 289.6,547.3 C284.7,548.3 275.2,552.0 265.9,554.9 C256.6,557.8 244.8,561.1 233.7,564.8 C222.6,568.5 205.3,575.0 199.6,577.0" fill="none" stroke="#282828" stroke-width="0.9"/>
<ellipse cx="291.5" cy="534.6" rx="1.5" ry="1.2" fill="none" stroke="#282828" stroke-width="0.9"/>
<ellipse cx="301.2" cy="543.8" rx="1.6" ry="1.3" fill="none" stroke="#282828" stroke-width="0.9"/>
<path d="M274.5,552.7 L274.5,632.2" fill="none" stroke="#282828" stroke-width="0.9"/>
<ellipse cx="196.2" cy="575.9" rx="5.3" ry="9.6" fill="#fff" stroke="#282828" stroke-width="0.9" transform="rotate(192 196.2 575.9)"/>
<path d="M198.2,566.6 L186.4,564.1 L182.4,582.8 L194.2,585.3 Z" fill="#fff" stroke="none"/>
<path d="M198.2,566.6 L186.4,564.1" fill="none" stroke="#282828" stroke-width="0.9"/>
<path d="M194.2,585.3 L182.4,582.8" fill="none" stroke="#282828" stroke-width="0.9"/>
<ellipse cx="184.4" cy="573.5" rx="5.3" ry="9.6" fill="#fff" stroke="#282828" stroke-width="0.9" transform="rotate(192 184.4 573.5)"/>
<path d="M197.2,582.0 L204.5,587.6" fill="none" stroke="#282828" stroke-width="0.9" stroke-dasharray="7 2.5" stroke-linecap="butt"/>
<path d="M189.5,576.5 L194.5,578.0" fill="none" stroke="#282828" stroke-width="0.9" stroke-dasharray="7 2.5" stroke-linecap="butt"/>
<ellipse cx="208.9" cy="592.6" rx="3.9" ry="7.8" fill="#fff" stroke="#282828" stroke-width="0.9" transform="rotate(25 208.9 592.6)"/>
<path d="M205.6,599.7 L213.8,603.5 L220.4,589.3 L212.2,585.5 Z" fill="#fff" stroke="none"/>
<path d="M205.6,599.7 L213.8,603.5" fill="none" stroke="#282828" stroke-width="0.9"/>
<path d="M212.2,585.5 L220.4,589.3" fill="none" stroke="#282828" stroke-width="0.9"/>
<ellipse cx="217.1" cy="596.4" rx="3.9" ry="7.8" fill="#fff" stroke="#282828" stroke-width="0.9" transform="rotate(25 217.1 596.4)"/>
<ellipse cx="217.1" cy="596.4" rx="1.8" ry="3.5" fill="none" stroke="#282828" stroke-width="0.9" transform="rotate(25 217.1 596.4)"/>
<path d="M221.5,595.5 L233.5,595.5 L233.5,611.8" fill="none" stroke="#282828" stroke-width="0.9"/>
<path d="M233.5,625.1 L233.5,632.5 L274.5,632.5" fill="none" stroke="#282828" stroke-width="0.9"/>
<path d="M253.5,632.2 L253.5,639.7" fill="none" stroke="#282828" stroke-width="0.9"/>
<path d="M268.5,496.2 L268.5,510.8" fill="none" stroke="#282828" stroke-width="0.9"/>
<path d="M264.6,518.0 L281.4,530.8 L283.4,528.0 L266.6,515.2 Z" fill="#fff" stroke="#282828" stroke-width="0.9"/>
<path d="M280.7,530.3 L282.8,527.6" fill="none" stroke="#282828" stroke-width="0.7"/>
<path d="M279.5,529.3 L281.5,526.6" fill="none" stroke="#282828" stroke-width="0.7"/>
<path d="M278.2,528.3 L280.2,525.6" fill="none" stroke="#282828" stroke-width="0.7"/>
<path d="M276.9,527.4 L279.0,524.7" fill="none" stroke="#282828" stroke-width="0.7"/>
<path d="M275.6,526.4 L277.7,523.7" fill="none" stroke="#282828" stroke-width="0.7"/>
<path d="M274.4,525.4 L276.4,522.7" fill="none" stroke="#282828" stroke-width="0.7"/>
<path d="M273.1,524.4 L275.2,521.7" fill="none" stroke="#282828" stroke-width="0.7"/>
<ellipse cx="266.8" cy="517.5" rx="2.7" ry="5.4" fill="#fff" stroke="#282828" stroke-width="0.9" transform="rotate(37.30394827798341 266.8 517.5)"/>
<ellipse cx="266.0" cy="516.9" rx="1.9" ry="3.9" fill="#fff" stroke="#282828" stroke-width="0.9" transform="rotate(217.3039482779834 266.0 516.9)"/>
<path d="M268.4,513.8 L265.6,511.7 L260.9,517.9 L263.6,520.0 Z" fill="#fff" stroke="none"/>
<path d="M268.4,513.8 L265.6,511.7" fill="none" stroke="#282828" stroke-width="0.9"/>
<path d="M263.6,520.0 L260.9,517.9" fill="none" stroke="#282828" stroke-width="0.9"/>
<ellipse cx="263.3" cy="514.8" rx="1.9" ry="3.9" fill="#fff" stroke="#282828" stroke-width="0.9" transform="rotate(217.3039482779834 263.3 514.8)"/>
<path d="M283.6,530.4 L289.0,533.6" fill="none" stroke="#282828" stroke-width="0.9" stroke-dasharray="7 2.5" stroke-linecap="butt"/>
<path d="M293.9,521.6 L311.0,516.2 L314.0,520.2" fill="none" stroke="#282828" stroke-width="0.9" stroke-dasharray="7 2.5" stroke-linecap="butt"/>
<path d="M293.9,521.6 L303.5,532.0 L297.5,534.4" fill="none" stroke="#282828" stroke-width="0.9" stroke-dasharray="7 2.5" stroke-linecap="butt"/>
<path d="M303.5,536.4 L308.9,534.4 L319.6,542.0 L335.7,536.6 L333.0,534.0" fill="none" stroke="#282828" stroke-width="0.9" stroke-dasharray="7 2.5" stroke-linecap="butt"/>
<ellipse cx="319.7" cy="524.4" rx="4.1" ry="8.2" fill="#fff" stroke="#282828" stroke-width="0.9" transform="rotate(26 319.7 524.4)"/>
<path d="M316.1,531.8 L325.1,536.2 L332.3,521.4 L323.3,517.0 Z" fill="#fff" stroke="none"/>
<path d="M316.1,531.8 L325.1,536.2" fill="none" stroke="#282828" stroke-width="0.9"/>
<path d="M323.3,517.0 L332.3,521.4" fill="none" stroke="#282828" stroke-width="0.9"/>
<ellipse cx="328.7" cy="528.8" rx="4.1" ry="8.2" fill="#fff" stroke="#282828" stroke-width="0.9" transform="rotate(26 328.7 528.8)"/>
<ellipse cx="328.7" cy="528.8" rx="1.8" ry="3.7" fill="none" stroke="#282828" stroke-width="0.9" transform="rotate(26 328.7 528.8)"/>
<path d="M333.6,529.5 L346.8,529.5" fill="none" stroke="#282828" stroke-width="0.9"/>
<path d="M316.8,554.6 L312.7,558.5 L307.1,557.1 L305.6,551.8 L309.7,547.9 L315.3,549.3 Z" fill="#fff" stroke="#282828" stroke-width="0.9"/>
<ellipse cx="311.2" cy="553.2" rx="3.2" ry="2.9" fill="none" stroke="#282828" stroke-width="0.9"/>
<ellipse cx="311.2" cy="553.2" rx="1.4" ry="1.3" fill="none" stroke="#282828" stroke-width="0.8"/>
<path d="M313.5,558.4 L313.5,567.7" fill="none" stroke="#282828" stroke-width="0.9"/>
<path d="M306.0,547.6 L308.6,549.6" fill="none" stroke="#282828" stroke-width="0.9" stroke-dasharray="7 2.5" stroke-linecap="butt"/>
<path d="M349.4,464.5 L365.5,464.5" fill="none" stroke="#282828" stroke-width="0.9"/>
<path d="M366.0,462.0 C366.4,461.2 367.2,458.5 368.5,457.4 C369.8,456.3 371.9,455.5 373.6,455.6 C375.4,455.7 377.6,456.5 379.0,457.8 C380.4,459.1 381.5,461.4 382.2,463.4 C382.9,465.4 383.1,468.2 383.0,470.0 C382.9,471.8 382.6,473.5 381.6,474.4 C380.6,475.3 378.7,475.5 377.0,475.4 C375.3,475.3 373.0,474.9 371.4,474.0 C369.8,473.1 368.5,472.0 367.6,470.0 C366.7,468.0 366.3,463.3 366.0,462.0" fill="#fff" stroke="#282828" stroke-width="0.9"/>
<path d="M368.5,457.4 C369.1,458.2 371.1,460.1 372.0,462.0 C372.9,463.9 373.6,466.4 373.8,468.5 C374.0,470.6 373.1,473.4 373.0,474.4" fill="none" stroke="#282828" stroke-width="0.7"/>
<path d="M383.6,461.6 L388.4,458.4" fill="none" stroke="#282828" stroke-width="0.9" stroke-dasharray="7 2.5" stroke-linecap="butt"/>
<path d="M393.5,432.5 L393.5,448.3" fill="none" stroke="#282828" stroke-width="0.9"/>
<path d="M400.3,455.1 L396.9,459.7 L391.0,459.2 L388.5,454.1 L391.9,449.5 L397.8,450.0 Z" fill="#fff" stroke="#282828" stroke-width="0.9"/>
<ellipse cx="394.4" cy="454.6" rx="3.2" ry="3.0" fill="none" stroke="#282828" stroke-width="0.9"/>
<ellipse cx="394.4" cy="454.6" rx="1.5" ry="1.3" fill="none" stroke="#282828" stroke-width="0.8"/>
<path d="M399.8,451.6 L404.2,449.2" fill="none" stroke="#282828" stroke-width="0.9" stroke-dasharray="7 2.5" stroke-linecap="butt"/>
<path d="M411.5,419.0 L411.5,440.0" fill="none" stroke="#282828" stroke-width="0.9"/>
<path d="M406.6,442.8 L410.4,440.6 L412.6,441.4 L414.4,445.0 L416.2,448.4 L414.2,450.8 L410.8,451.4 L409.0,448.6 L407.2,446.4 Z" fill="#fff" stroke="#282828" stroke-width="0.9"/>
<ellipse cx="411.4" cy="445.8" rx="1.1" ry="1.4" fill="none" stroke="#282828" stroke-width="0.9"/>
<path d="M448.5,473.0 L448.5,484.8" fill="none" stroke="#282828" stroke-width="0.9"/>
<ellipse cx="448.4" cy="488.6" rx="3.9" ry="4.4" fill="#fff" stroke="#282828" stroke-width="0.9"/>
<ellipse cx="448.8" cy="488.8" rx="2.0" ry="2.5" fill="none" stroke="#282828" stroke-width="0.9"/>
<path d="M417.1,494.5 L431.0,494.5" fill="none" stroke="#282828" stroke-width="0.9"/>
<ellipse cx="434.2" cy="494.0" rx="2.9" ry="3.1" fill="#fff" stroke="#282828" stroke-width="0.9"/>
<ellipse cx="434.4" cy="494.2" rx="1.4" ry="1.5" fill="none" stroke="#282828" stroke-width="0.9"/>
<path d="M397.1,506.5 L413.4,506.5" fill="none" stroke="#282828" stroke-width="1.2"/>
<path d="M422.6,506.9 L420.4,510.5 L416.0,510.5 L413.8,506.9 L416.0,503.5 L420.4,503.5 Z" fill="#fff" stroke="#282828" stroke-width="0.9"/>
<ellipse cx="418.2" cy="506.9" rx="2.4" ry="2.2" fill="none" stroke="#282828" stroke-width="0.9"/>
<ellipse cx="418.2" cy="506.9" rx="1.1" ry="1.0" fill="none" stroke="#282828" stroke-width="0.8"/>
<path d="M464.3,539.9 L543.8,582.9" fill="none" stroke="#282828" stroke-width="0.9"/>
<path d="M460.0,547.4 L538.4,592.5" fill="none" stroke="#282828" stroke-width="0.9"/>
<ellipse cx="462.7" cy="538.5" rx="3.5" ry="6.0" fill="#fff" stroke="#282828" stroke-width="0.9" transform="rotate(146 462.7 538.5)"/>
<path d="M459.4,533.5 L451.9,538.5 L458.6,548.5 L466.1,543.5 Z" fill="#fff" stroke="none"/>
<path d="M459.4,533.5 L451.9,538.5" fill="none" stroke="#282828" stroke-width="0.9"/>
<path d="M466.1,543.5 L458.6,548.5" fill="none" stroke="#282828" stroke-width="0.9"/>
<ellipse cx="455.3" cy="543.5" rx="3.5" ry="6.0" fill="#fff" stroke="#282828" stroke-width="0.9" transform="rotate(146 455.3 543.5)"/>
<ellipse cx="549.7" cy="587.8" rx="3.5" ry="6.0" fill="#fff" stroke="#282828" stroke-width="0.9" transform="rotate(146 549.7 587.8)"/>
<path d="M546.4,582.8 L538.9,587.8 L545.6,597.8 L553.1,592.8 Z" fill="#fff" stroke="none"/>
<path d="M546.4,582.8 L538.9,587.8" fill="none" stroke="#282828" stroke-width="0.9"/>
<path d="M553.1,592.8 L545.6,597.8" fill="none" stroke="#282828" stroke-width="0.9"/>
<ellipse cx="542.3" cy="592.8" rx="3.5" ry="6.0" fill="#fff" stroke="#282828" stroke-width="0.9" transform="rotate(146 542.3 592.8)"/>
<ellipse cx="445.8" cy="550.1" rx="3.0" ry="5.0" fill="#fff" stroke="#282828" stroke-width="0.9" transform="rotate(150 445.8 550.1)"/>
<path d="M443.3,545.7 L437.7,549.0 L442.7,557.7 L448.3,554.4 Z" fill="#fff" stroke="none"/>
<path d="M443.3,545.7 L437.7,549.0" fill="none" stroke="#282828" stroke-width="0.9"/>
<path d="M448.3,554.4 L442.7,557.7" fill="none" stroke="#282828" stroke-width="0.9"/>
<ellipse cx="440.2" cy="553.3" rx="3.0" ry="5.0" fill="#fff" stroke="#282828" stroke-width="0.9" transform="rotate(150 440.2 553.3)"/>
<ellipse cx="439.6" cy="553.7" rx="4.0" ry="6.4" fill="#fff" stroke="#282828" stroke-width="0.9" transform="rotate(150 439.6 553.7)"/>
<path d="M436.4,548.1 L434.2,549.4 L440.6,560.5 L442.8,559.2 Z" fill="#fff" stroke="none"/>
<path d="M436.4,548.1 L434.2,549.4" fill="none" stroke="#282828" stroke-width="0.9"/>
<path d="M442.8,559.2 L440.6,560.5" fill="none" stroke="#282828" stroke-width="0.9"/>
<ellipse cx="437.4" cy="555.0" rx="4.0" ry="6.4" fill="#fff" stroke="#282828" stroke-width="0.9" transform="rotate(150 437.4 555.0)"/>
<ellipse cx="437.4" cy="555.0" rx="3.1" ry="5.0" fill="none" stroke="#282828" stroke-width="0.8" transform="rotate(150 437.4 555.0)"/>
<ellipse cx="437.4" cy="555.0" rx="2.2" ry="3.5" fill="#dcdcdc" stroke="#282828" stroke-width="0.8" transform="rotate(150 437.4 555.0)"/>
<ellipse cx="437.4" cy="555.0" rx="1.0" ry="1.6" fill="#8c8c8c" stroke="#282828" stroke-width="0.6" transform="rotate(150 437.4 555.0)"/>
<path d="M446.4,549.6 L452.4,546.4" fill="none" stroke="#282828" stroke-width="0.9" stroke-dasharray="7 2.5" stroke-linecap="butt"/>
<path d="M436.5,561.5 L436.5,568.0" fill="none" stroke="#282828" stroke-width="0.9"/>
<path d="M436.5,579.5 L436.5,602.5 L441.8,602.5" fill="none" stroke="#282828" stroke-width="0.9"/>
<path d="M436.4,585.5 L489.0,585.5 L499.6,571.6" fill="none" stroke="#282828" stroke-width="0.9"/>
<path d="M423.5,596.5 L436.4,596.5" fill="none" stroke="#282828" stroke-width="1.3"/>
<ellipse cx="522.4" cy="603.2" rx="3.0" ry="5.0" fill="#fff" stroke="#282828" stroke-width="0.9" transform="rotate(150 522.4 603.2)"/>
<path d="M519.9,598.8 L514.3,602.1 L519.3,610.8 L524.9,607.5 Z" fill="#fff" stroke="none"/>
<path d="M519.9,598.8 L514.3,602.1" fill="none" stroke="#282828" stroke-width="0.9"/>
<path d="M524.9,607.5 L519.3,610.8" fill="none" stroke="#282828" stroke-width="0.9"/>
<ellipse cx="516.8" cy="606.4" rx="3.0" ry="5.0" fill="#fff" stroke="#282828" stroke-width="0.9" transform="rotate(150 516.8 606.4)"/>
<ellipse cx="516.2" cy="606.8" rx="4.0" ry="6.4" fill="#fff" stroke="#282828" stroke-width="0.9" transform="rotate(150 516.2 606.8)"/>
<path d="M513.0,601.2 L510.8,602.5 L517.2,613.6 L519.4,612.3 Z" fill="#fff" stroke="none"/>
<path d="M513.0,601.2 L510.8,602.5" fill="none" stroke="#282828" stroke-width="0.9"/>
<path d="M519.4,612.3 L517.2,613.6" fill="none" stroke="#282828" stroke-width="0.9"/>
<ellipse cx="514.0" cy="608.0" rx="4.0" ry="6.4" fill="#fff" stroke="#282828" stroke-width="0.9" transform="rotate(150 514.0 608.0)"/>
<ellipse cx="514.0" cy="608.0" rx="3.1" ry="5.0" fill="none" stroke="#282828" stroke-width="0.8" transform="rotate(150 514.0 608.0)"/>
<ellipse cx="514.0" cy="608.0" rx="2.2" ry="3.5" fill="#dcdcdc" stroke="#282828" stroke-width="0.8" transform="rotate(150 514.0 608.0)"/>
<ellipse cx="514.0" cy="608.0" rx="1.0" ry="1.6" fill="#8c8c8c" stroke="#282828" stroke-width="0.6" transform="rotate(150 514.0 608.0)"/>
<path d="M500.9,604.5 L509.4,604.5" fill="none" stroke="#282828" stroke-width="1.3"/>
<path d="M539.0,594.0 L524.4,602.0" fill="none" stroke="#282828" stroke-width="0.9" stroke-dasharray="7 2.5" stroke-linecap="butt"/>
<path d="M509.6,610.4 L483.0,625.0 L450.6,643.2" fill="none" stroke="#282828" stroke-width="0.9" stroke-dasharray="7 2.5" stroke-linecap="butt"/>
<ellipse cx="478.2" cy="627.2" rx="3.4" ry="4.4" fill="#fff" stroke="#282828" stroke-width="0.9" transform="rotate(-25 478.2 627.2)"/>
<ellipse cx="478.4" cy="627.4" rx="1.6" ry="2.2" fill="none" stroke="#282828" stroke-width="0.9" transform="rotate(-25 478.4 627.4)"/>
<path d="M483.1,629.5 L497.6,629.5" fill="none" stroke="#282828" stroke-width="0.9"/>
<path d="M451.1,646.9 L447.8,650.6 L442.7,649.8 L440.9,645.1 L444.2,641.4 L449.3,642.2 Z" fill="#fff" stroke="#282828" stroke-width="0.9"/>
<ellipse cx="446.0" cy="646.0" rx="2.9" ry="2.6" fill="none" stroke="#282828" stroke-width="0.9"/>
<ellipse cx="446.0" cy="646.0" rx="1.3" ry="1.1" fill="none" stroke="#282828" stroke-width="0.8"/>
<path d="M451.2,647.5 L470.6,647.5" fill="none" stroke="#282828" stroke-width="0.9"/>
<path d="M566.9,485.1 L640.4,526.2" fill="none" stroke="#282828" stroke-width="0.9"/>
<path d="M562.4,488.7 L637.0,531.2" fill="none" stroke="#282828" stroke-width="0.9"/>
<ellipse cx="563.5" cy="481.0" rx="3.5" ry="6.0" fill="#fff" stroke="#282828" stroke-width="0.9" transform="rotate(146 563.5 481.0)"/>
<path d="M560.2,476.0 L552.7,481.0 L559.4,491.0 L566.9,486.0 Z" fill="#fff" stroke="none"/>
<path d="M560.2,476.0 L552.7,481.0" fill="none" stroke="#282828" stroke-width="0.9"/>
<path d="M566.9,486.0 L559.4,491.0" fill="none" stroke="#282828" stroke-width="0.9"/>
<ellipse cx="556.1" cy="486.0" rx="3.5" ry="6.0" fill="#fff" stroke="#282828" stroke-width="0.9" transform="rotate(146 556.1 486.0)"/>
<ellipse cx="649.3" cy="530.3" rx="3.5" ry="6.0" fill="#fff" stroke="#282828" stroke-width="0.9" transform="rotate(146 649.3 530.3)"/>
<path d="M646.0,525.3 L638.5,530.3 L645.2,540.3 L652.7,535.3 Z" fill="#fff" stroke="none"/>
<path d="M646.0,525.3 L638.5,530.3" fill="none" stroke="#282828" stroke-width="0.9"/>
<path d="M652.7,535.3 L645.2,540.3" fill="none" stroke="#282828" stroke-width="0.9"/>
<ellipse cx="641.9" cy="535.3" rx="3.5" ry="6.0" fill="#fff" stroke="#282828" stroke-width="0.9" transform="rotate(146 641.9 535.3)"/>
<path d="M623.5,516.4 L625.4,511.6 L630.4,509.4 L632.8,511.2 L633.4,519.6 L637.6,522.4 L637.8,526.0" fill="#fff" stroke="#282828" stroke-width="0.9"/>
<path d="M625.4,511.6 L629.6,519.4 L633.4,519.6" fill="none" stroke="#282828" stroke-width="0.9"/>
<ellipse cx="629.4" cy="513.6" rx="1.4" ry="1.6" fill="none" stroke="#282828" stroke-width="0.9"/>
<ellipse cx="547.6" cy="491.3" rx="3.0" ry="5.0" fill="#fff" stroke="#282828" stroke-width="0.9" transform="rotate(150 547.6 491.3)"/>
<path d="M545.1,486.9 L539.5,490.2 L544.5,498.9 L550.1,495.6 Z" fill="#fff" stroke="none"/>
<path d="M545.1,486.9 L539.5,490.2" fill="none" stroke="#282828" stroke-width="0.9"/>
<path d="M550.1,495.6 L544.5,498.9" fill="none" stroke="#282828" stroke-width="0.9"/>
<ellipse cx="542.0" cy="494.5" rx="3.0" ry="5.0" fill="#fff" stroke="#282828" stroke-width="0.9" transform="rotate(150 542.0 494.5)"/>
<ellipse cx="541.4" cy="494.9" rx="4.0" ry="6.4" fill="#fff" stroke="#282828" stroke-width="0.9" transform="rotate(150 541.4 494.9)"/>
<path d="M538.2,489.3 L536.0,490.6 L542.4,501.7 L544.6,500.4 Z" fill="#fff" stroke="none"/>
<path d="M538.2,489.3 L536.0,490.6" fill="none" stroke="#282828" stroke-width="0.9"/>
<path d="M544.6,500.4 L542.4,501.7" fill="none" stroke="#282828" stroke-width="0.9"/>
<ellipse cx="539.2" cy="496.1" rx="4.0" ry="6.4" fill="#fff" stroke="#282828" stroke-width="0.9" transform="rotate(150 539.2 496.1)"/>
<ellipse cx="539.2" cy="496.1" rx="3.1" ry="5.0" fill="none" stroke="#282828" stroke-width="0.8" transform="rotate(150 539.2 496.1)"/>
<ellipse cx="539.2" cy="496.1" rx="2.2" ry="3.5" fill="#dcdcdc" stroke="#282828" stroke-width="0.8" transform="rotate(150 539.2 496.1)"/>
<ellipse cx="539.2" cy="496.1" rx="1.0" ry="1.6" fill="#8c8c8c" stroke="#282828" stroke-width="0.6" transform="rotate(150 539.2 496.1)"/>
<path d="M548.0,491.4 L552.4,489.0" fill="none" stroke="#282828" stroke-width="0.9" stroke-dasharray="7 2.5" stroke-linecap="butt"/>
<path d="M547.0,500.2 L561.4,531.3" fill="none" stroke="#282828" stroke-width="0.9"/>
<path d="M561.5,549.6 L561.5,589.5 L630.5,589.5 L630.5,573.2" fill="none" stroke="#282828" stroke-width="0.9"/>
<path d="M597.5,510.9 L597.5,601.1" fill="none" stroke="#282828" stroke-width="0.9"/>
<ellipse cx="631.4" cy="540.7" rx="3.0" ry="5.0" fill="#fff" stroke="#282828" stroke-width="0.9" transform="rotate(150 631.4 540.7)"/>
<path d="M628.9,536.3 L623.3,539.6 L628.3,548.3 L633.9,545.0 Z" fill="#fff" stroke="none"/>
<path d="M628.9,536.3 L623.3,539.6" fill="none" stroke="#282828" stroke-width="0.9"/>
<path d="M633.9,545.0 L628.3,548.3" fill="none" stroke="#282828" stroke-width="0.9"/>
<ellipse cx="625.8" cy="543.9" rx="3.0" ry="5.0" fill="#fff" stroke="#282828" stroke-width="0.9" transform="rotate(150 625.8 543.9)"/>
<ellipse cx="625.2" cy="544.2" rx="4.0" ry="6.4" fill="#fff" stroke="#282828" stroke-width="0.9" transform="rotate(150 625.2 544.2)"/>
<path d="M622.0,538.7 L619.8,540.0 L626.2,551.1 L628.4,549.8 Z" fill="#fff" stroke="none"/>
<path d="M622.0,538.7 L619.8,540.0" fill="none" stroke="#282828" stroke-width="0.9"/>
<path d="M628.4,549.8 L626.2,551.1" fill="none" stroke="#282828" stroke-width="0.9"/>
<ellipse cx="623.0" cy="545.5" rx="4.0" ry="6.4" fill="#fff" stroke="#282828" stroke-width="0.9" transform="rotate(150 623.0 545.5)"/>
<ellipse cx="623.0" cy="545.5" rx="3.1" ry="5.0" fill="none" stroke="#282828" stroke-width="0.8" transform="rotate(150 623.0 545.5)"/>
<ellipse cx="623.0" cy="545.5" rx="2.2" ry="3.5" fill="#dcdcdc" stroke="#282828" stroke-width="0.8" transform="rotate(150 623.0 545.5)"/>
<ellipse cx="623.0" cy="545.5" rx="1.0" ry="1.6" fill="#8c8c8c" stroke="#282828" stroke-width="0.6" transform="rotate(150 623.0 545.5)"/>
<path d="M630.5,550.4 L630.5,559.0" fill="none" stroke="#282828" stroke-width="0.9"/>
<path d="M638.5,537.0 L632.0,540.4" fill="none" stroke="#282828" stroke-width="0.9" stroke-dasharray="7 2.5" stroke-linecap="butt"/>
<path d="M618.6,548.0 L580.0,570.5 L554.5,586.0" fill="none" stroke="#282828" stroke-width="0.9" stroke-dasharray="7 2.5" stroke-linecap="butt"/>
<path d="M605.9,481.7 L602.4,485.6 L597.1,484.7 L595.3,479.9 L598.8,476.0 L604.1,476.9 Z" fill="#fff" stroke="#282828" stroke-width="0.9"/>
<ellipse cx="600.6" cy="480.8" rx="3.0" ry="2.7" fill="none" stroke="#282828" stroke-width="0.9"/>
<ellipse cx="600.6" cy="480.8" rx="1.4" ry="1.2" fill="none" stroke="#282828" stroke-width="0.8"/>
<path d="M606.4,483.0 L610.5,486.0 L610.5,504.4 L627.4,513.4" fill="none" stroke="#282828" stroke-width="0.9" stroke-dasharray="7 2.5" stroke-linecap="butt"/>
<path d="M645.5,450.4 L645.5,476.2" fill="none" stroke="#282828" stroke-width="0.9"/>
<ellipse cx="644.4" cy="482.0" rx="3.6" ry="5.6" fill="#fff" stroke="#282828" stroke-width="0.9" transform="rotate(20 644.4 482.0)"/>
<ellipse cx="644.6" cy="482.2" rx="1.3" ry="2.0" fill="none" stroke="#282828" stroke-width="0.9" transform="rotate(20 644.6 482.2)"/>
<path d="M638.5,477.4 L638.5,519.5 L633.6,522.0" fill="none" stroke="#282828" stroke-width="1.2" stroke-dasharray="7 2.5" stroke-linecap="butt"/>
<path d="M638.3,477.4 L641.0,476.6" fill="none" stroke="#282828" stroke-width="1.2"/>
<rect x="649.7" y="462.2" width="14.0" height="12.9" fill="#fff" stroke="#282828" stroke-width="1.1"/>
<text x="656.9" y="472.2" font-size="10" font-weight="bold" text-anchor="middle" fill="#1c1c1c" stroke="none">A</text>
<path d="M675.5,466.5 L675.5,476.2" fill="none" stroke="#282828" stroke-width="0.9"/>
<path d="M649.4,484.6 L668.5,494.4" fill="none" stroke="#282828" stroke-width="0.9" stroke-dasharray="7 2.5" stroke-linecap="butt"/>
<path d="M674.5,486.0 L674.5,494.2" fill="none" stroke="#282828" stroke-width="0.9"/>
<path d="M677.5,486.0 L677.5,494.2" fill="none" stroke="#282828" stroke-width="0.9"/>
<ellipse cx="673.2" cy="482.8" rx="1.8" ry="3.6" fill="#fff" stroke="#282828" stroke-width="0.9" transform="rotate(-18 673.2 482.8)"/>
<path d="M674.3,486.2 L680.4,484.2 L678.1,477.4 L672.0,479.4 Z" fill="#fff" stroke="none"/>
<path d="M674.3,486.2 L680.4,484.2" fill="none" stroke="#282828" stroke-width="0.9"/>
<path d="M672.0,479.4 L678.1,477.4" fill="none" stroke="#282828" stroke-width="0.9"/>
<ellipse cx="679.2" cy="480.8" rx="1.8" ry="3.6" fill="#fff" stroke="#282828" stroke-width="0.9" transform="rotate(-18 679.2 480.8)"/>
<ellipse cx="673.2" cy="499.4" rx="1.8" ry="3.6" fill="#fff" stroke="#282828" stroke-width="0.9" transform="rotate(-18 673.2 499.4)"/>
<path d="M674.3,502.8 L680.4,500.8 L678.1,494.0 L672.0,496.0 Z" fill="#fff" stroke="none"/>
<path d="M674.3,502.8 L680.4,500.8" fill="none" stroke="#282828" stroke-width="0.9"/>
<path d="M672.0,496.0 L678.1,494.0" fill="none" stroke="#282828" stroke-width="0.9"/>
<ellipse cx="679.2" cy="497.4" rx="1.8" ry="3.6" fill="#fff" stroke="#282828" stroke-width="0.9" transform="rotate(-18 679.2 497.4)"/>
<path d="M672.0,479.6 L665.2,476.4 L664.4,478.0 L671.2,481.2 Z" fill="#fff" stroke="#282828" stroke-width="0.9"/>
<ellipse cx="670.2" cy="479.8" rx="1.2" ry="2.4" fill="#fff" stroke="#282828" stroke-width="0.9" transform="rotate(-154.79887635452522 670.2 479.8)"/>
<ellipse cx="671.1" cy="480.2" rx="0.9" ry="1.7" fill="#fff" stroke="#282828" stroke-width="0.9" transform="rotate(25.20112364547478 671.1 480.2)"/>
<path d="M670.4,481.8 L673.5,483.2 L675.0,480.1 L671.9,478.6 Z" fill="#fff" stroke="none"/>
<path d="M670.4,481.8 L673.5,483.2" fill="none" stroke="#282828" stroke-width="0.9"/>
<path d="M671.9,478.6 L675.0,480.1" fill="none" stroke="#282828" stroke-width="0.9"/>
<ellipse cx="674.2" cy="481.6" rx="0.9" ry="1.7" fill="#fff" stroke="#282828" stroke-width="0.9" transform="rotate(25.20112364547478 674.2 481.6)"/>
<path d="M672.0,496.2 L665.2,493.0 L664.4,494.6 L671.2,497.8 Z" fill="#fff" stroke="#282828" stroke-width="0.9"/>
<ellipse cx="670.2" cy="496.4" rx="1.2" ry="2.4" fill="#fff" stroke="#282828" stroke-width="0.9" transform="rotate(-154.79887635452522 670.2 496.4)"/>
<ellipse cx="671.1" cy="496.8" rx="0.9" ry="1.7" fill="#fff" stroke="#282828" stroke-width="0.9" transform="rotate(25.20112364547478 671.1 496.8)"/>
<path d="M670.4,498.4 L673.5,499.8 L675.0,496.7 L671.9,495.2 Z" fill="#fff" stroke="none"/>
<path d="M670.4,498.4 L673.5,499.8" fill="none" stroke="#282828" stroke-width="0.9"/>
<path d="M671.9,495.2 L675.0,496.7" fill="none" stroke="#282828" stroke-width="0.9"/>
<ellipse cx="674.2" cy="498.2" rx="0.9" ry="1.7" fill="#fff" stroke="#282828" stroke-width="0.9" transform="rotate(25.20112364547478 674.2 498.2)"/>
<path d="M737.6,480.8 L689.6,509.2 L687.6,506.0 L735.8,477.6 Z" fill="#fff" stroke="#282828" stroke-width="0.9"/>
<path d="M690.1,504.6 L691.9,507.8" fill="none" stroke="#282828" stroke-width="0.7"/>
<path d="M692.0,503.4 L693.8,506.6" fill="none" stroke="#282828" stroke-width="0.7"/>
<path d="M694.0,502.3 L695.8,505.5" fill="none" stroke="#282828" stroke-width="0.7"/>
<path d="M695.9,501.2 L697.7,504.4" fill="none" stroke="#282828" stroke-width="0.7"/>
<path d="M697.8,500.0 L699.6,503.2" fill="none" stroke="#282828" stroke-width="0.7"/>
<path d="M686.4,508.6 L688.2,511.0 L691.2,509.8" fill="none" stroke="#282828" stroke-width="0.9"/>
<ellipse cx="736.6" cy="479.4" rx="2.6" ry="5.4" fill="#fff" stroke="#282828" stroke-width="0.9" transform="rotate(-31 736.6 479.4)"/>
<ellipse cx="738.7" cy="478.1" rx="2.2" ry="4.4" fill="#fff" stroke="#282828" stroke-width="0.9" transform="rotate(-31 738.7 478.1)"/>
<path d="M740.9,481.9 L744.0,480.0 L739.5,472.5 L736.4,474.4 Z" fill="#fff" stroke="none"/>
<path d="M740.9,481.9 L744.0,480.0" fill="none" stroke="#282828" stroke-width="0.9"/>
<path d="M736.4,474.4 L739.5,472.5" fill="none" stroke="#282828" stroke-width="0.9"/>
<ellipse cx="741.7" cy="476.3" rx="2.2" ry="4.4" fill="#fff" stroke="#282828" stroke-width="0.9" transform="rotate(-31 741.7 476.3)"/>
<path d="M724.5,491.2 L724.5,505.2" fill="none" stroke="#282828" stroke-width="0.9"/>
<ellipse cx="679.2" cy="513.8" rx="3.6" ry="5.8" fill="#fff" stroke="#282828" stroke-width="0.9" transform="rotate(-28 679.2 513.8)"/>
<ellipse cx="679.4" cy="514.0" rx="1.7" ry="3.0" fill="none" stroke="#282828" stroke-width="0.9" transform="rotate(-28 679.4 514.0)"/>
<path d="M680.5,520.4 L680.5,536.3" fill="none" stroke="#282828" stroke-width="0.9"/>
<path d="M652.6,530.6 L674.6,517.2" fill="none" stroke="#282828" stroke-width="0.9" stroke-dasharray="7 2.5" stroke-linecap="butt"/>
<path d="M683.4,511.4 L687.0,509.4" fill="none" stroke="#282828" stroke-width="0.9" stroke-dasharray="7 2.5" stroke-linecap="butt"/>
<rect x="679.7" y="610.5" width="140.1" height="18.9" fill="none" stroke="#282828" stroke-width="0.9"/>
<path d="M703.5,610.5 L703.5,629.4" fill="none" stroke="#282828" stroke-width="0.9"/>
<circle cx="691.3" cy="619.9" r="6.9" fill="none" stroke="#282828" stroke-width="0.9"/>
<text x="691.6" y="624.1" font-size="11" text-anchor="middle" fill="#282828" stroke="none">1</text>
<circle cx="712.5" cy="619.9" r="6.9" fill="none" stroke="#282828" stroke-width="0.9"/>
<text x="712.5" y="623.7" font-size="10.5" text-anchor="middle" fill="#282828" stroke="none">B</text>
</g>
<g fill="#383838" stroke="none" font-size="11" id="labels">
<text transform="matrix(0.957 -0.509 -0.242 1.39 196.2 451.5)" x="0" y="8" textLength="38" lengthAdjust="spacing">FRONT</text>
<text transform="translate(256.30,303.70) scale(1.1364,1.0000)" x="0" y="8" textLength="34.4" lengthAdjust="spacing">20151</text>
<text transform="translate(216.10,344.70) scale(1.1047,1.0000)" x="0" y="8" textLength="34.4" lengthAdjust="spacing">20176</text>
<text transform="translate(209.00,355.20) scale(1.0550,1.0000)" x="0" y="8" textLength="80" lengthAdjust="spacing">('06MY0506-</text>
<text transform="translate(329.00,355.20) scale(1.5000,1.0000)" x="0" y="8">)</text>
<text transform="translate(256.50,386.40) scale(1.0222,1.0000)" x="0" y="8" textLength="54" lengthAdjust="spacing">M000206</text>
<text transform="translate(379.00,409.20) scale(1.0826,1.0000)" x="0" y="8" textLength="46" lengthAdjust="spacing">20584A</text>
<text transform="translate(352.60,423.50) scale(1.0333,1.0000)" x="0" y="8" textLength="54" lengthAdjust="spacing">N350006</text>
<text transform="translate(310.10,460.70) scale(1.1105,1.0000)" x="0" y="8" textLength="36" lengthAdjust="spacing">20521</text>
<text transform="translate(412.40,463.20) scale(1.1065,1.0000)" x="0" y="8" textLength="46" lengthAdjust="spacing">20584B</text>
<text transform="translate(364.40,490.30) scale(1.1217,1.0000)" x="0" y="8" textLength="46" lengthAdjust="spacing">20584C</text>
<text transform="translate(339.30,503.60) scale(1.0426,1.0000)" x="0" y="8" textLength="54" lengthAdjust="spacing">N350006</text>
<text transform="translate(240.80,486.10) scale(1.0317,1.0000)" x="0" y="8" textLength="50.4" lengthAdjust="spacing">M000109</text>
<text transform="translate(347.70,525.50) scale(1.1109,1.0000)" x="0" y="8" textLength="46" lengthAdjust="spacing">20254F</text>
<text transform="translate(286.80,568.30) scale(1.0333,1.0000)" x="0" y="8" textLength="54" lengthAdjust="spacing">N350006</text>
<g transform="translate(113.30,515.00) scale(0.9549,1.0000)"><text x="0" y="8" textLength="38" lengthAdjust="spacing">20540</text><text x="56.4" y="8" textLength="30" lengthAdjust="spacing">&lt;RH&gt;</text></g>
<text transform="translate(113.30,527.50) scale(1.0577,1.0000)" x="0" y="8" textLength="78" lengthAdjust="spacing">20540A&lt;LH&gt;</text>
<text transform="translate(77.80,542.50) scale(1.1174,1.0000)" x="0" y="8" textLength="46" lengthAdjust="spacing">20578B</text>
<text transform="translate(141.60,632.10) scale(1.0556,1.0000)" x="0" y="8" textLength="54" lengthAdjust="spacing">N350006</text>
<text transform="translate(103.00,645.30) scale(1.1196,1.0000)" x="0" y="8" textLength="46" lengthAdjust="spacing">20578Q</text>
<text transform="translate(213.30,615.00) scale(1.0891,1.0000)" x="0" y="8" textLength="46" lengthAdjust="spacing">20254E</text>
<text transform="translate(232.00,643.50) scale(1.1079,1.0000)" x="0" y="8" textLength="38" lengthAdjust="spacing">20252</text>
<text transform="translate(411.70,569.20) scale(1.0978,1.0000)" x="0" y="8" textLength="46" lengthAdjust="spacing">20254A</text>
<text transform="translate(373.00,592.40) scale(1.0283,1.0000)" x="0" y="8" textLength="46" lengthAdjust="spacing">20200B</text>
<text transform="translate(441.00,600.30) scale(1.1093,1.0000)" x="0" y="8" textLength="54" lengthAdjust="spacing">20254*B</text>
<text transform="translate(499.00,625.40) scale(1.0852,1.0000)" x="0" y="8" textLength="54" lengthAdjust="spacing">L33505X</text>
<text transform="translate(471.50,643.20) scale(1.0842,1.0000)" x="0" y="8" textLength="38" lengthAdjust="spacing">20568</text>
<text transform="translate(525.10,536.80) scale(1.1258,1.0000)" x="0" y="8" textLength="62" lengthAdjust="spacing">20254B*B</text>
<text transform="translate(600.10,561.40) scale(1.1056,1.0000)" x="0" y="8" textLength="54" lengthAdjust="spacing">20254*B</text>
<text transform="translate(577.10,605.60) scale(1.0579,1.0000)" x="0" y="8" textLength="38" lengthAdjust="spacing">20250</text>
<text transform="translate(572.80,460.40) scale(1.0852,1.0000)" x="0" y="8" textLength="54" lengthAdjust="spacing">N370042</text>
<text transform="translate(611.50,441.00) scale(1.1218,1.0000)" x="0" y="8" textLength="46.8" lengthAdjust="spacing">P100173</text>
<text transform="translate(671.50,456.40) scale(1.0474,1.0000)" x="0" y="8" textLength="38" lengthAdjust="spacing">20470</text>
<text transform="translate(700.70,507.90) scale(1.1022,1.0000)" x="0" y="8" textLength="46" lengthAdjust="spacing">20578D</text>
<text transform="translate(659.00,540.20) scale(1.1130,1.0000)" x="0" y="8" textLength="54" lengthAdjust="spacing">L33505X</text>
<text transform="translate(591.70,320.70) scale(1.1250,1.0000)" x="0" y="8" textLength="36" lengthAdjust="spacing">20451</text>
<text transform="translate(598.80,378.30) scale(1.1026,1.0000)" x="0" y="8" textLength="38" lengthAdjust="spacing">20578</text>
<text transform="translate(611.50,418.90) scale(1.0670,1.0000)" x="0" y="8" textLength="40" lengthAdjust="spacing">M00011</text>
<text transform="translate(661.10,402.70) scale(1.0852,1.0000)" x="0" y="8" textLength="54" lengthAdjust="spacing">N370029</text>
<text transform="translate(747.60,288.20) scale(1.0667,1.0000)" x="0" y="8" textLength="78" lengthAdjust="spacing">20540B&lt;RH&gt;</text>
<text transform="translate(748.50,300.20) scale(1.0551,1.0000)" x="0" y="8" textLength="78" lengthAdjust="spacing">20540C&lt;LH&gt;</text>
<text transform="translate(807.80,401.20) scale(1.1250,1.0000)" x="0" y="8" textLength="34.4" lengthAdjust="spacing">20414</text>
<text transform="translate(808.90,427.00) scale(1.0842,1.0000)" x="0" y="8" textLength="38" lengthAdjust="spacing">20466</text>
<text transform="translate(722.60,616.40) scale(1.1058,1.0000)" x="0" y="8" textLength="83.2" lengthAdjust="spacing">012308250(6)</text>
</g>
<rect x="357.65" y="484.35" width="84" height="15.5" fill="none" stroke="#e21c24" stroke-width="4.7"/>
<defs>
<linearGradient id="og" x1="0" y1="0" x2="0" y2="1"><stop offset="0" stop-color="#f47a45"/><stop offset="1" stop-color="#e4521b"/></linearGradient>
<linearGradient id="gg" gradientUnits="userSpaceOnUse" x1="0" y1="0" x2="0" y2="135"><stop offset="0" stop-color="#dcdcdc"/><stop offset="0.3" stop-color="#a2a2a2"/><stop offset="0.45" stop-color="#6a6a6a"/><stop offset="0.55" stop-color="#5c5c5c"/><stop offset="0.75" stop-color="#8e8e8e"/><stop offset="1" stop-color="#aaaaaa"/></linearGradient>
<filter id="sh" x="-5%%" y="-20%%" width="110%%" height="150%%"><feGaussianBlur in="SourceAlpha" stdDeviation="0.7"/><feOffset dx="0.5" dy="1.1"/><feComponentTransfer><feFuncA type="linear" slope="0.85"/></feComponentTransfer><feMerge><feMergeNode/><feMergeNode in="SourceGraphic"/></feMerge></filter>
</defs>
<g id="logo">
<g filter="url(#sh)">
<g transform="matrix(0.06873 0 0 0.06873 586 668)">
<use href="#emb" fill="url(#og)"/>
<use href="#embsj"/>
</g>
</g>
<g filter="url(#sh)">
<text transform="matrix(0.2207 0 -0.0585 0.225 653.85 673.8)" x="-6" y="100" font-size="138" font-weight="bold" fill="url(#gg)" textLength="880" lengthAdjust="spacingAndGlyphs">StefDesign</text>
</g>
<text transform="matrix(0.1176 0 -0.0249 0.0959 808.1 668.9)" x="0" y="100" font-size="140" font-weight="bold" fill="#ee5a1f" textLength="318" lengthAdjust="spacingAndGlyphs">.com</text>
<g fill="#ee6526" font-size="125" font-weight="bold">
<text transform="matrix(0.05878 0 -0.01454 0.05594 643.2 699.5)" x="0" y="98" textLength="468" lengthAdjust="spacingAndGlyphs">pièces</text>
<text transform="matrix(0.05878 0 -0.01454 0.05594 677.3 699.5)" x="0" y="98" fill="#8a8a8a" textLength="75" lengthAdjust="spacingAndGlyphs">&amp;</text>
<text transform="matrix(0.05878 0 -0.01454 0.05594 688.1 699.5)" x="0" y="98" textLength="900" lengthAdjust="spacingAndGlyphs">accessoires</text>
<text transform="matrix(0.05878 0 -0.01454 0.05594 749.9 699.5)" x="0" y="98" textLength="524" lengthAdjust="spacingAndGlyphs">Subaru</text>
</g>
</g>

</svg>
</body></html>
